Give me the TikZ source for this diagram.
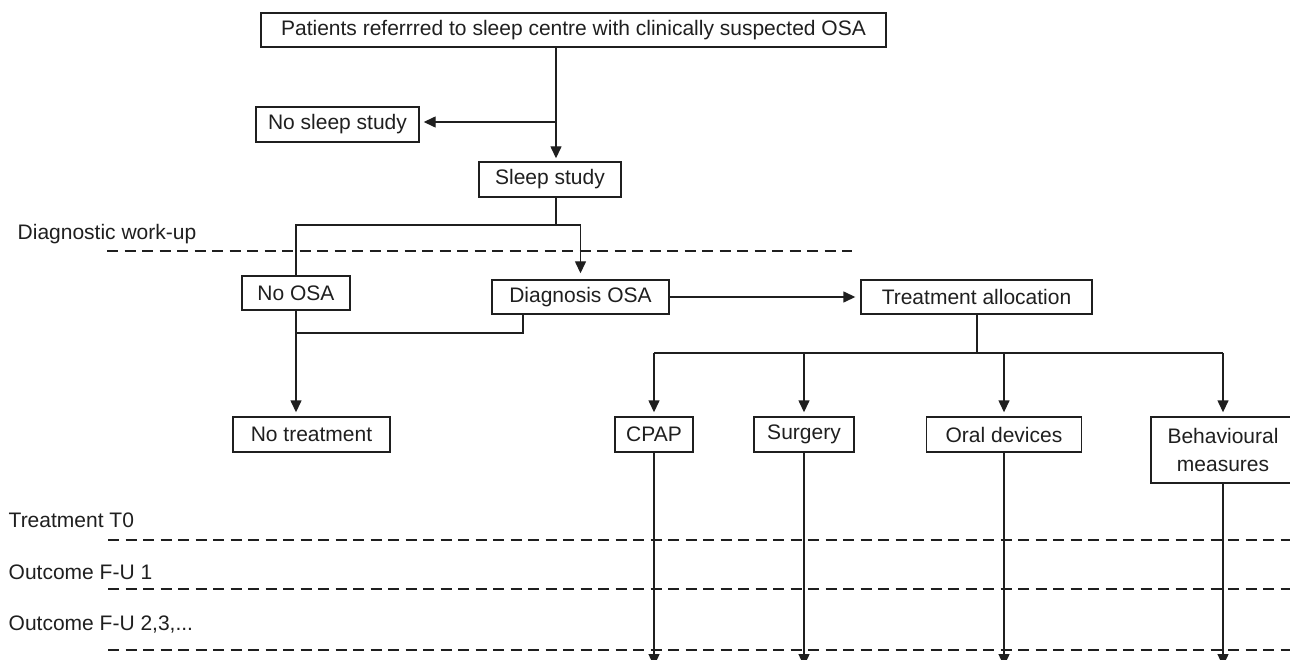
\documentclass[tikz,border=0pt]{standalone}
\usepackage{fontspec}
\setmainfont{Liberation Sans}
\usetikzlibrary{arrows.meta}

\begin{document}
\begin{tikzpicture}[x=1pt, y=-1pt, line width=1.4pt, color=black!88,
        box/.style={draw, inner sep=0pt, minimum height=35pt, font=\fontsize{21}{28}\selectfont},
        arr/.style={-{Triangle[length=12pt,width=11pt]}, shorten >=4pt},
        lane/.style={dash pattern=on 11pt off 6.5pt},
        lbl/.style={anchor=base west, inner sep=0pt, font=\fontsize{21}{27}\selectfont}]
        \useasboundingbox (0,0) rectangle (1290,660);
        % boxes
        \node[box, minimum width=625pt, minimum height=34pt] (top) at (573.5,30) {Patients referrred to sleep centre with clinically suspected OSA};
        \node[box, minimum width=163pt] (nosleep) at (337.5,124.5) {No sleep study};
        \node[box, minimum width=142pt] (sleep) at (550,179.5) {Sleep study};
        \node[box, minimum width=108pt, minimum height=34pt] (noosa) at (296,293) {No OSA};
        \node[box, minimum width=177pt, minimum height=34pt] (diag) at (580.5,297) {Diagnosis OSA};
        \node[box, minimum width=231pt, minimum height=34pt] (alloc) at (976.5,297) {Treatment allocation};
        \node[box, minimum width=157pt] (notreat) at (311.5,434.5) {No treatment};
        \node[box, minimum width=78pt] (cpap) at (654,434.5) {CPAP};
        \node[box, minimum width=100pt] (surgery) at (804,434.5) {Surgery};
        \node[box, minimum width=155pt] (oral) at (1004,434.5) {Oral devices};
        \node[box, minimum width=144pt, minimum height=66pt, align=center] (behav) at (1223,450) {Behavioural\\measures};
        % phase labels and lanes
        \node[lbl] (workup) at (17,240) {Diagnostic work-up};
        \node[lbl] (tzero) at (8,527) {Treatment T0};
        \node[lbl] (fuone) at (8,579) {Outcome F-U 1};
        \node[lbl] (fumore) at (8,630) {Outcome F-U 2,3,...};
        \draw[lane] (107,251) -- (852,251);
        \draw[lane] (108,540) -- (1290,540);
        \draw[lane] (108,589) -- (1290,589);
        \draw[lane] (108,650) -- (1290,650);
        % connectors
        \coordinate (trunk) at (556,122);
        \coordinate (fork) at (556,225);
        \coordinate (merge) at (523,333);
        \coordinate (hub) at (977,353);
        \coordinate (floor) at (0,666);
        \draw[arr, shorten >=3pt] (top.south -| trunk) -- (sleep.north -| trunk);
        \draw[arr] (trunk) -- (nosleep.east |- trunk);
        \draw (sleep.south -| fork) -- (fork);
        \draw (fork) -| (noosa.north);
        \draw[arr, shorten >=6pt] (fork) -| (diag.north);
        \draw[arr, shorten >=5pt] (diag.east) -- (alloc.west);
        \draw (diag.south -| merge) -- (merge) -- (merge -| noosa.south);
        \draw[arr] (noosa.south) -- (notreat.north -| noosa.south);
        \draw (alloc.south -| hub) -- (hub);
        \draw (cpap.north |- hub) -- (behav.north |- hub);
        \foreach \n in {cpap,surgery,oral,behav}{
            \draw[arr] (\n.north |- hub) -- (\n.north);
            \draw[arr, shorten >=0pt] (\n.south) -- (\n.south |- floor);
        }
\end{tikzpicture}
\end{document}
